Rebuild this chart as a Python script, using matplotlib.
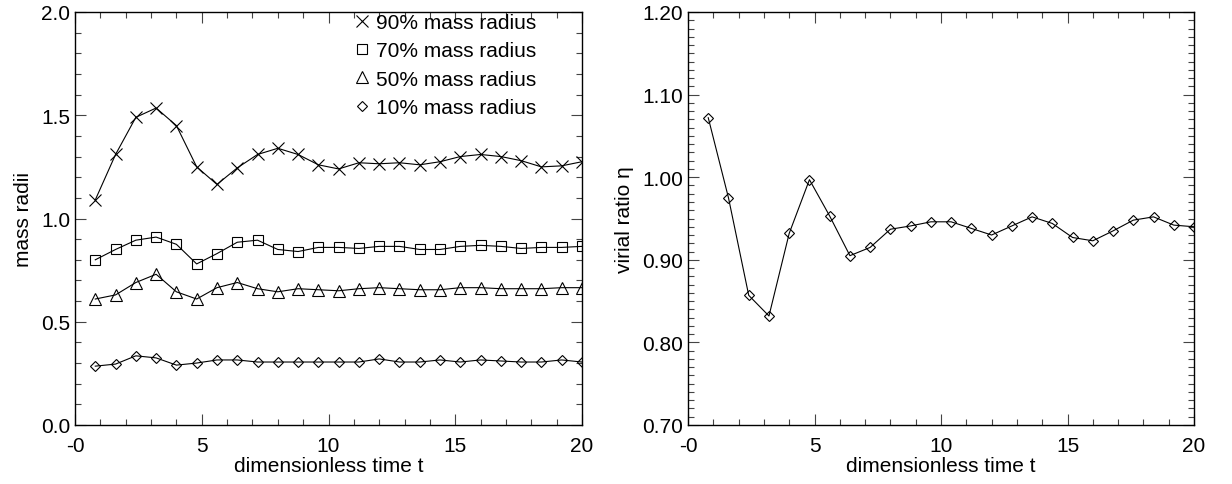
import matplotlib
matplotlib.use("Agg")
import matplotlib.pyplot as plt
from matplotlib.ticker import MultipleLocator, FuncFormatter
from matplotlib.lines import Line2D

plt.rcParams['font.family'] = ['Liberation Sans', 'DejaVu Sans']
plt.rcParams['font.size'] = 15

# ── Data ───────────────────────────────────────────────────────────────────────
t = [0.8, 1.6, 2.4, 3.2, 4.0, 4.8, 5.6, 6.4, 7.2, 8.0, 8.8, 9.6, 10.4,
     11.2, 12.0, 12.8, 13.6, 14.4, 15.2, 16.0, 16.8, 17.6, 18.4, 19.2, 20.0]

r90 = [1.09, 1.31, 1.49, 1.535, 1.45, 1.25, 1.165, 1.245, 1.31, 1.34, 1.31, 1.26, 1.24,
       1.27, 1.265, 1.27, 1.26, 1.275, 1.30, 1.31, 1.30, 1.28, 1.25, 1.255, 1.275]
r70 = [0.80, 0.85, 0.895, 0.91, 0.875, 0.78, 0.83, 0.885, 0.895, 0.85, 0.84, 0.86, 0.86,
       0.855, 0.865, 0.865, 0.85, 0.85, 0.865, 0.87, 0.865, 0.855, 0.86, 0.86, 0.865]
r50 = [0.61, 0.63, 0.69, 0.73, 0.645, 0.61, 0.665, 0.69, 0.66, 0.645, 0.66, 0.655, 0.65,
       0.66, 0.665, 0.66, 0.655, 0.655, 0.665, 0.665, 0.66, 0.66, 0.66, 0.665, 0.665]
r10 = [0.285, 0.295, 0.335, 0.325, 0.29, 0.30, 0.315, 0.315, 0.305, 0.305, 0.305, 0.305, 0.305,
       0.305, 0.32, 0.305, 0.305, 0.315, 0.305, 0.315, 0.31, 0.305, 0.305, 0.315, 0.305]

virial = [1.072, 0.975, 0.857, 0.832, 0.932, 0.997, 0.953, 0.905, 0.915, 0.937, 0.941, 0.946, 0.946,
          0.938, 0.930, 0.941, 0.952, 0.944, 0.927, 0.923, 0.935, 0.948, 0.952, 0.942, 0.940]

series = [
    ('90% mass radius', r90, 'x', 8.5),
    ('70% mass radius', r70, 's', 7.2),
    ('50% mass radius', r50, '^', 8),
    ('10% mass radius', r10, 'D', 5.5),
]

# ── Figure ─────────────────────────────────────────────────────────────────────
W, H = 1232, 485
fig = plt.figure(figsize=(W / 100, H / 100), dpi=100)
ax1 = fig.add_axes([75 / W, 1 - 426 / H, (582 - 75) / W, (426 - 13) / H])
ax2 = fig.add_axes([688 / W, 1 - 426 / H, (1194 - 688) / W, (426 - 13) / H])


def style_axes(ax):
    ax.tick_params(which='both', direction='in', top=True, right=True,
                   color='#444444', width=0.8)
    ax.tick_params(which='major', length=8)
    ax.tick_params(which='minor', length=4)
    ax.tick_params(axis='x', pad=8)
    for sp in ax.spines.values():
        sp.set_linewidth(1.0)
    ax.set_xlim(0, 20)
    ax.xaxis.set_major_locator(MultipleLocator(5))
    ax.xaxis.set_minor_locator(MultipleLocator(1))
    ax.xaxis.set_major_formatter(FuncFormatter(lambda v, p: '-0' if v == 0 else f'{v:g}'))
    ax.set_xlabel('dimensionless time t', labelpad=1)


# Left panel: mass radii
handles = []
for label, vals, mk, ms in series:
    ax1.plot(t, vals, color='black', lw=0.8, marker=mk, ms=ms,
             fillstyle='none', mew=0.8)
    handles.append(Line2D([], [], color='black', ls='none', marker=mk, ms=ms,
                          fillstyle='none', mew=0.8, label=label))
style_axes(ax1)
ax1.set_ylim(0, 2.0)
ax1.yaxis.set_major_locator(MultipleLocator(0.5))
ax1.yaxis.set_minor_locator(MultipleLocator(0.1))
ax1.yaxis.set_major_formatter(FuncFormatter(lambda v, p: f'{v:.1f}'))
ax1.set_ylabel('mass radii', labelpad=6)
ax1.legend(handles=handles, loc='upper left', frameon=False,
           bbox_to_anchor=(356 / W, 1 - 14 / H), bbox_transform=fig.transFigure,
           borderpad=0, borderaxespad=0, handlelength=0.6, handletextpad=0.35,
           labelspacing=0.45, numpoints=1)

# Right panel: virial ratio
ax2.plot(t, virial, color='black', lw=0.8, marker='D', ms=5.5,
         fillstyle='none', mew=0.8)
style_axes(ax2)
ax2.set_ylim(0.70, 1.20)
ax2.yaxis.set_major_locator(MultipleLocator(0.1))
ax2.yaxis.set_minor_locator(MultipleLocator(0.01))
ax2.yaxis.set_major_formatter(FuncFormatter(lambda v, p: f'{v:.2f}'))
ax2.set_ylabel('virial ratio η', labelpad=6)

fig.savefig('out.png', dpi=100)
